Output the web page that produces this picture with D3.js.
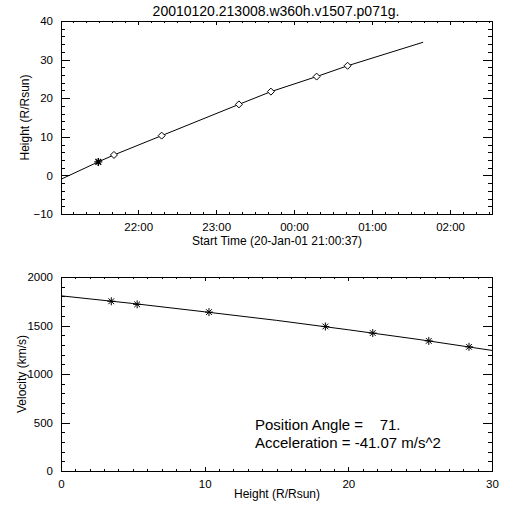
<!DOCTYPE html>
<html><head><meta charset="utf-8">
<script src="https://cdn.jsdelivr.net/npm/d3@7"></script>
<style>
body{margin:0;background:#fff;}
svg{display:block;font-family:"Liberation Sans",Arial,sans-serif;}
text{fill:#000;}
</style></head><body>
<svg id="c" width="512" height="512"></svg>
<script>
// ---- data ----
const titleText = "20010120.213008.w360h.v1507.p071g.";
const startLabel = "Start Time (20-Jan-01 21:00:37)";
// seconds after 21:00:37
const obsTimes = [1722, 2446, 4648, 8215, 9692, 11802, 13232];
const obsHeights = [3.5, 5.3, 10.3, 18.4, 21.7, 25.6, 28.4];
const obsVelocities = [1750, 1718, 1638, 1490, 1422, 1341, 1280];
const fitTimes = [0, 1722, 2446, 4648, 8215, 9692, 11802, 13232, 16722];
const fitHeights = [-1.0, 3.5, 5.3, 10.3, 18.4, 21.7, 25.6, 28.4, 34.5];
const fitVelHeights = [0, 5, 10, 15, 20, 25, 30];
const fitVelocities = [1806, 1727, 1641, 1553, 1456, 1354, 1243];
const hourTickSecs = [3563, 7163, 10763, 14363, 17963];
const hourTickLabels = ["22:00", "23:00", "00:00", "01:00", "02:00"];
const timeMinorSecs = [563,1163,1763,2363,2963,3563,4163,4763,5363,5963,6563,7163,7763,8363,8963,9563,10163,10763,11363,11963,12563,13163,13763,14363,14963,15563,16163,16763,17363,17963,18563,19163,19763];
const heightTicks = [-10, 0, 10, 20, 30, 40];
const heightMinor = [-8,-6,-4,-2,2,4,6,8,12,14,16,18,22,24,26,28,32,34,36,38];
const velTicks = [0, 500, 1000, 1500, 2000];
const velMinor = [100,200,300,400,600,700,800,900,1100,1200,1300,1400,1600,1700,1800,1900];
const hTicks = [0, 10, 20, 30];
const hMinor = [1,2,3,4,5,6,7,8,9,11,12,13,14,15,16,17,18,19,21,22,23,24,25,26,27,28,29];
const annot1 = "Position Angle =    71.";
const annot2 = "Acceleration = -41.07 m/s^2";

const svg = d3.select("#c");
const L = 61, R = 492;

function frame(g, x, y, xMaj, xMin, yMaj, yMin, xFmt, yFmt) {
  const [y0, y1] = y.range(); // bottom, top
  const h = y0 - y1, w = R - L;
  const xt = 0.02 * h, yt = 0.02 * w;
  g.append("g").attr("class", "xl").attr("transform", `translate(0,${y0})`)
    .call(d3.axisBottom(x).tickValues(xMaj).tickSize(-xt).tickSizeOuter(0).tickPadding(9).tickFormat(xFmt));
  g.append("g").attr("transform", `translate(0,${y0})`)
    .call(d3.axisBottom(x).tickValues(xMin).tickSize(-xt/2).tickSizeOuter(0).tickFormat(""));
  g.append("g").attr("transform", `translate(0,${y1})`)
    .call(d3.axisTop(x).tickValues(xMaj).tickSize(-xt).tickSizeOuter(0).tickFormat(""));
  g.append("g").attr("transform", `translate(0,${y1})`)
    .call(d3.axisTop(x).tickValues(xMin).tickSize(-xt/2).tickSizeOuter(0).tickFormat(""));
  g.append("g").attr("class", "yl").attr("transform", `translate(${L},0)`)
    .call(d3.axisLeft(y).tickValues(yMaj).tickSize(-yt).tickSizeOuter(0).tickPadding(8).tickFormat(yFmt));
  g.append("g").attr("transform", `translate(${L},0)`)
    .call(d3.axisLeft(y).tickValues(yMin).tickSize(-yt/2).tickSizeOuter(0).tickFormat(""));
  g.append("g").attr("transform", `translate(${R},0)`)
    .call(d3.axisRight(y).tickValues(yMaj).tickSize(-yt).tickSizeOuter(0).tickFormat(""));
  g.append("g").attr("transform", `translate(${R},0)`)
    .call(d3.axisRight(y).tickValues(yMin).tickSize(-yt/2).tickSizeOuter(0).tickFormat(""));
  g.selectAll(".domain").remove();
  g.selectAll(".tick line").attr("stroke", "#000").attr("shape-rendering", "crispEdges");
  g.selectAll(".tick text").attr("font-size", 11.5).attr("font-family", "Liberation Sans, Arial, sans-serif").attr("fill", "#000");
  g.append("rect").attr("x", L + 0.5).attr("y", y1 + 0.5).attr("width", w).attr("height", h)
    .attr("fill", "none").attr("stroke", "#000").attr("shape-rendering", "crispEdges");
}

function starPath(cx, cy, r) {
  const d = r * 0.72;
  return `M${cx - r},${cy}H${cx + r}M${cx},${cy - r}V${cy + r}M${cx - d},${cy - d}L${cx + d},${cy + d}M${cx - d},${cy + d}L${cx + d},${cy - d}`;
}
function diamondPath(cx, cy, r) {
  return `M${cx},${cy - r}L${cx + r},${cy}L${cx},${cy + r}L${cx - r},${cy}Z`;
}

// ---- top plot ----
const x1 = d3.scaleLinear().domain([0, 19900]).range([L, R]);
const y1 = d3.scaleLinear().domain([-10, 40]).range([214, 21]);
const g1 = svg.append("g");
frame(g1, x1, y1, hourTickSecs, timeMinorSecs, heightTicks, heightMinor,
  (d, i) => hourTickLabels[i], d => d3.format("d")(d).replace("-", "\u2212"));
g1.append("path").datum(fitTimes.map((t, i) => [t, fitHeights[i]]))
  .attr("d", d3.line().x(d => x1(d[0])).y(d => y1(d[1])))
  .attr("fill", "none").attr("stroke", "#000").attr("stroke-width", 1);
g1.selectAll(".pt").data(obsTimes.map((t, i) => [t, obsHeights[i]]))
  .enter().append("path")
  .attr("d", (d, i) => i === 0 ? starPath(x1(d[0]), y1(d[1]), 4) : diamondPath(x1(d[0]), y1(d[1]), 3.5))
  .attr("fill", (d, i) => i === 0 ? "none" : "#fff").attr("stroke", "#000").attr("stroke-width", (d, i) => i === 0 ? 1.4 : 1);
svg.append("text").attr("x", 276).attr("y", 16).attr("text-anchor", "middle").attr("font-size", 14).text(titleText);
svg.append("text").attr("x", 277).attr("y", 245).attr("text-anchor", "middle").attr("font-size", 12).text(startLabel);
svg.append("text").attr("transform", "translate(29,117.5) rotate(-90)").attr("text-anchor", "middle").attr("font-size", 12).text("Height (R/Rsun)");

// ---- bottom plot ----
const x2 = d3.scaleLinear().domain([0, 30]).range([L, R]);
const y2 = d3.scaleLinear().domain([0, 2000]).range([471, 277]);
const g2 = svg.append("g");
frame(g2, x2, y2, hTicks, hMinor, velTicks, velMinor, d3.format("d"), d3.format("d"));
g2.append("path").datum(fitVelHeights.map((h, i) => [h, fitVelocities[i]]))
  .attr("d", d3.line().x(d => x2(d[0])).y(d => y2(d[1])))
  .attr("fill", "none").attr("stroke", "#000").attr("stroke-width", 1);
g2.selectAll(".pt").data(obsHeights.map((h, i) => [h, obsVelocities[i]]))
  .enter().append("path")
  .attr("d", d => starPath(x2(d[0]), y2(d[1]), 4))
  .attr("fill", "none").attr("stroke", "#000").attr("stroke-width", 1);
svg.append("text").attr("x", 277).attr("y", 498).attr("text-anchor", "middle").attr("font-size", 12).text("Height (R/Rsun)");
svg.append("text").attr("transform", "translate(26,374) rotate(-90)").attr("text-anchor", "middle").attr("font-size", 12).text("Velocity (km/s)");
svg.append("text").attr("x", 255).attr("y", 430).attr("font-size", 15).style("white-space", "pre").text(annot1);
svg.append("text").attr("x", 255).attr("y", 448).attr("font-size", 15).style("white-space", "pre").text(annot2);
</script>
</body></html>
